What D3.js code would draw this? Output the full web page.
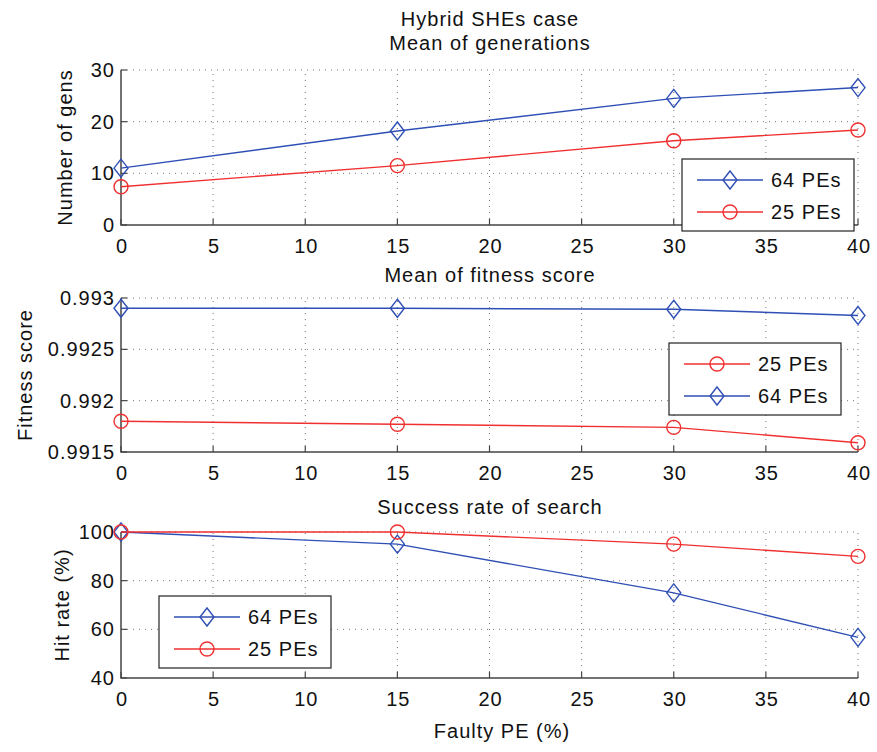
<!DOCTYPE html>
<html>
<head>
<meta charset="utf-8">
<script src="https://cdn.jsdelivr.net/npm/d3@7"></script>
<style>
  body { margin: 0; background: #fff; }
  text { font-family: "Liberation Sans", Arial, sans-serif; font-size: 20px; fill: #111; letter-spacing: 1px; }
</style>
</head>
<body>
<svg id="fig" width="877" height="752"></svg>
<script>
// faulty PE percentages
const faulty = [0, 15, 30, 40];
const xTicks = [0, 5, 10, 15, 20, 25, 30, 35, 40];

// mean of generations
const gens64 = [11.0, 18.2, 24.5, 26.6];
const gens25 = [7.4, 11.5, 16.3, 18.4];

// mean of fitness score
const fit64 = [0.99290, 0.99290, 0.99289, 0.99283];
const fit25 = [0.99180, 0.99177, 0.99174, 0.99159];

// success rate of search
const hit64 = [100, 95, 75, 56.7];
const hit25 = [100, 100, 95, 90];

const BLUE = "#2f4fb5", RED = "#f03030";

let svg = d3.select("#fig");
let x = d3.scaleLinear().domain([0, 40]).range([121, 858]);

function panel(opts) {
    let y = d3.scaleLinear().domain(opts.domain).range(opts.range);
    let g = svg.append("g");
    let [y0, y1] = opts.range;

    // dotted grid
    g.selectAll(".gx").data(xTicks.slice(1)).enter().append("line")
        .attr("x1", d => x(d)).attr("x2", d => x(d))
        .attr("y1", y0).attr("y2", y1)
        .attr("stroke", "#777").attr("stroke-width", 1)
        .attr("stroke-dasharray", "1,5");
    g.selectAll(".gy").data(opts.ticks.slice(1)).enter().append("line")
        .attr("x1", x(0)).attr("x2", x(40))
        .attr("y1", d => y(d)).attr("y2", d => y(d))
        .attr("stroke", "#777").attr("stroke-width", 1)
        .attr("stroke-dasharray", "1,5");

    // inward ticks
    g.selectAll(".tx").data(xTicks).enter().append("line")
        .attr("x1", d => x(d)).attr("x2", d => x(d))
        .attr("y1", y0).attr("y2", y0 - 6)
        .attr("stroke", "#444").attr("stroke-width", 1.2);
    g.selectAll(".ty").data(opts.ticks).enter().append("line")
        .attr("x1", x(0)).attr("x2", x(0) + 6)
        .attr("y1", d => y(d)).attr("y2", d => y(d))
        .attr("stroke", "#444").attr("stroke-width", 1.2);

    // axis lines (left and bottom)
    g.append("path")
        .attr("d", "M" + x(0) + "," + y1 + "V" + y0 + "H" + x(40))
        .attr("fill", "none").attr("stroke", "#444").attr("stroke-width", 1.5);

    // tick labels
    g.selectAll(".lx").data(xTicks).enter().append("text")
        .attr("x", d => x(d) + 1).attr("y", y0 + 28)
        .attr("text-anchor", "middle")
        .text(d => d);
    g.selectAll(".ly").data(opts.ticks).enter().append("text")
        .attr("x", x(0) - 6).attr("y", d => y(d) + 7)
        .attr("text-anchor", "end")
        .text(opts.fmt);

    // y label
    g.append("text")
        .attr("transform", "translate(" + opts.ylx + "," + ((y0 + y1) / 2) + ") rotate(-90)")
        .attr("text-anchor", "middle")
        .text(opts.ylabel);

    // title
    g.append("text")
        .attr("x", 490).attr("y", opts.titleY)
        .attr("text-anchor", "middle")
        .text(opts.title);

    // series
    let line = d3.line().x((d, i) => x(faulty[i])).y(d => y(d));
    opts.series.forEach(s => {
        g.append("path").datum(s.values)
            .attr("d", line)
            .attr("fill", "none").attr("stroke", s.color).attr("stroke-width", 1.4);
        drawMarkers(g, s, s.values.map((v, i) => [x(faulty[i]), y(v)]));
    });

    // legend
    let L = opts.legend;
    let lg = g.append("g");
    lg.append("rect")
        .attr("x", L.x).attr("y", L.y).attr("width", 172).attr("height", 72)
        .attr("fill", "#fff").attr("stroke", "#222").attr("stroke-width", 1.2);
    L.items.forEach((s, i) => {
        let cy = L.y + 21 + i * 32;
        lg.append("line")
            .attr("x1", L.x + 15).attr("x2", L.x + 81)
            .attr("y1", cy).attr("y2", cy)
            .attr("stroke", s.color).attr("stroke-width", 1.4);
        drawMarkers(lg, s, [[L.x + 48, cy]]);
        lg.append("text")
            .attr("x", L.x + 89).attr("y", cy + 7)
            .text(s.name);
    });
}

function drawMarkers(g, s, pts) {
    if (s.marker === "diamond") {
        g.selectAll(null).data(pts).enter().append("path")
            .attr("d", d => "M" + d[0] + "," + (d[1] - 9) + "L" + (d[0] + 7) + "," + d[1] +
                "L" + d[0] + "," + (d[1] + 9) + "L" + (d[0] - 7) + "," + d[1] + "Z")
            .attr("fill", "none").attr("stroke", s.color).attr("stroke-width", 1.4);
    } else {
        g.selectAll(null).data(pts).enter().append("circle")
            .attr("cx", d => d[0]).attr("cy", d => d[1]).attr("r", 7)
            .attr("fill", "none").attr("stroke", s.color).attr("stroke-width", 1.4);
    }
}

let s64 = (v) => ({ name: "64 PEs", values: v, color: BLUE, marker: "diamond" });
let s25 = (v) => ({ name: "25 PEs", values: v, color: RED, marker: "circle" });

// top: generations
let gA = s64(gens64), gB = s25(gens25);
panel({
    domain: [0, 30], range: [225, 70], ticks: [0, 10, 20, 30],
    fmt: d => d, ylabel: "Number of gens", ylx: 72,
    title: "Mean of generations", titleY: 50,
    series: [gA, gB],
    legend: { x: 682, y: 159, items: [gA, gB] }
});
svg.append("text").attr("x", 490).attr("y", 26).attr("text-anchor", "middle")
    .text("Hybrid SHEs case");

// middle: fitness
let fA = s64(fit64), fB = s25(fit25);
panel({
    domain: [0.9915, 0.993], range: [452, 298], ticks: [0.9915, 0.992, 0.9925, 0.993],
    fmt: d3.format("~g"), ylabel: "Fitness score", ylx: 32,
    title: "Mean of fitness score", titleY: 282,
    series: [fA, fB],
    legend: { x: 669, y: 343, items: [fB, fA] }
});

// bottom: hit rate
let hA = s64(hit64), hB = s25(hit25);
panel({
    domain: [40, 100], range: [678, 532], ticks: [40, 60, 80, 100],
    fmt: d => d, ylabel: "Hit rate (%)", ylx: 69,
    title: "Success rate of search", titleY: 514,
    series: [hA, hB],
    legend: { x: 159, y: 596, items: [hA, hB] }
});

svg.append("text").attr("x", 502).attr("y", 738).attr("text-anchor", "middle")
    .text("Faulty PE (%)");
</script>
</body>
</html>
